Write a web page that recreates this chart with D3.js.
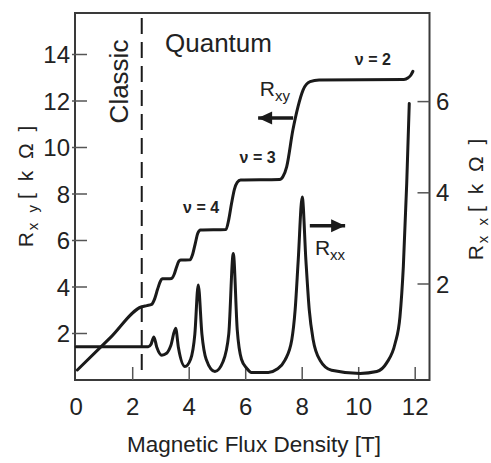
<!DOCTYPE html>
<html>
<head>
<meta charset="utf-8">
<script src="https://cdn.jsdelivr.net/npm/d3@7"></script>
<style>
  html, body { margin: 0; padding: 0; background: #fff; }
  svg { display: block; }
  text { font-family: "Liberation Sans", Arial, Helvetica, sans-serif; fill: #222; }
</style>
</head>
<body>
<svg id="chart" width="491" height="463"></svg>
<script>
// ---- data ----
const xTicks = [0, 2, 4, 6, 8, 10, 12];
const yLeftTicks = [2, 4, 6, 8, 10, 12, 14];
const yRightTicks = [2, 4, 6];

// Hall resistance R_xy [kOhm] vs B [T]
const rxyB   = [0.04, 1.2, 2.32, 2.5, 2.67, 2.78, 2.88, 2.98, 3.05, 3.38, 3.47, 3.55, 3.63, 3.7, 4.03, 4.12, 4.22, 4.3, 4.4, 5.3, 5.4, 5.5, 5.6, 5.7, 5.82, 7.2, 7.32, 7.45, 7.67, 7.85, 8.03, 8.28, 8.6, 11.6, 11.75, 11.85, 11.92];
const rxyVal = [0.43, 1.81, 3.15, 3.2, 3.25, 3.5, 3.9, 4.25, 4.35, 4.37, 4.55, 4.85, 5.1, 5.16, 5.17, 5.4, 5.9, 6.3, 6.45, 6.47, 6.9, 7.6, 8.2, 8.5, 8.6, 8.62, 8.75, 9.17, 10.75, 11.75, 12.47, 12.83, 12.9, 12.93, 13.0, 13.12, 13.28];

// Longitudinal resistance R_xx [kOhm] vs B [T]
const rxxB   = [0.0, 2.55, 2.65, 2.75, 2.85, 3.03, 3.2, 3.35, 3.52, 3.62, 3.85, 4.05, 4.2, 4.32, 4.45, 4.6, 4.91, 5.2, 5.4, 5.56, 5.7, 5.85, 6.04, 6.2, 6.8, 7.1, 7.39, 7.63, 7.75, 7.86, 8.0, 8.13, 8.25, 8.39, 8.63, 9.04, 10.05, 10.64, 10.99, 11.29, 11.46, 11.58, 11.7, 11.79];
const rxxVal = [0.625, 0.625, 0.68, 0.84, 0.62, 0.44, 0.48, 0.65, 1.03, 0.6, 0.19, 0.35, 0.9, 1.98, 0.9, 0.35, 0.08, 0.3, 0.9, 2.67, 1.0, 0.35, 0.15, 0.06, 0.06, 0.13, 0.33, 0.77, 1.43, 2.53, 3.91, 2.53, 1.43, 0.77, 0.33, 0.11, 0.04, 0.08, 0.27, 0.70, 1.28, 2.38, 4.21, 5.96];

const classicBoundary = 2.32;
const fillingLabels = [
  { text: "\u03bd = 2", b: 10.5, v: 13.55 },
  { text: "\u03bd = 3", b: 6.42, v: 9.33 },
  { text: "\u03bd = 4", b: 4.42, v: 7.18 }
];

// ---- layout ----
const svg = d3.select("#chart");
const box = { left: 75, right: 429.5, top: 13, bottom: 380 };

const x = d3.scaleLinear().domain([0, 12]).range([76.2, 415.2]);
const yL = d3.scaleLinear().domain([0, 14]).range([380, 54.5]);
const yR = d3.scaleLinear().domain([0, 6]).range([375.2, 101.6]);

const ink = "#1a1a1a";
const axisCol = "#3a3a3a";

// frame
svg.append("rect")
  .attr("x", box.left).attr("y", box.top)
  .attr("width", box.right - box.left).attr("height", box.bottom - box.top)
  .attr("fill", "none").attr("stroke", axisCol).attr("stroke-width", 2);

// bottom axis (inward ticks)
const gx = svg.append("g");
gx.selectAll("line").data(xTicks.filter(d => d > 0)).join("line")
  .attr("x1", d => x(d)).attr("x2", d => x(d))
  .attr("y1", box.bottom).attr("y2", box.bottom - 13)
  .attr("stroke", "#555").attr("stroke-width", 1.5);
gx.selectAll("text").data(xTicks).join("text")
  .attr("x", d => x(d)).attr("y", 414.5)
  .attr("text-anchor", "middle").attr("font-size", 24)
  .text(d => d);

// left axis
const gl = svg.append("g");
gl.selectAll("line").data(yLeftTicks).join("line")
  .attr("x1", box.left - 3).attr("x2", box.left + 12)
  .attr("y1", d => yL(d)).attr("y2", d => yL(d))
  .attr("stroke", "#555").attr("stroke-width", 1.5);
gl.selectAll("text").data(yLeftTicks).join("text")
  .attr("x", 70).attr("y", d => yL(d) + 8.5)
  .attr("text-anchor", "end").attr("font-size", 24)
  .text(d => d);

// right axis
const gr = svg.append("g");
gr.selectAll("line").data(yRightTicks).join("line")
  .attr("x1", box.right - 12).attr("x2", box.right)
  .attr("y1", d => yR(d)).attr("y2", d => yR(d))
  .attr("stroke", "#555").attr("stroke-width", 1.5);
gr.selectAll("text").data(yRightTicks).join("text")
  .attr("x", 436).attr("y", d => yR(d) + 8.5)
  .attr("text-anchor", "start").attr("font-size", 24)
  .text(d => d);

// axis titles
svg.append("text")
  .attr("x", 254).attr("y", 452)
  .attr("text-anchor", "middle").attr("font-size", 22.5).attr("fill", "#333")
  .text("Magnetic Flux Density [T]");

function yTitle(cx, cy, sub) {
  const t = svg.append("text")
    .attr("transform", `translate(${cx},${cy}) rotate(-90)`)
    .attr("text-anchor", "middle").attr("font-size", 21).attr("fill", "#333");
  t.append("tspan").text("R");
  t.append("tspan").attr("font-size", 15).attr("dy", 5).attr("dx", 2)
    .attr("letter-spacing", 3).text(sub);
  t.append("tspan").attr("dy", -5).attr("dx", 3).attr("letter-spacing", 3).text("[ k \u03a9 ]");
}
yTitle(33, 185, "x y");
yTitle(483, 198, "x x");

// classic / quantum separator
svg.append("line")
  .attr("x1", x(classicBoundary)).attr("x2", x(classicBoundary))
  .attr("y1", 18).attr("y2", 374)
  .attr("stroke", ink).attr("stroke-width", 2).attr("stroke-dasharray", "16,8");

svg.append("text")
  .attr("transform", `translate(128,81.5) rotate(-90)`)
  .attr("text-anchor", "middle").attr("font-size", 26)
  .text("Classic");
svg.append("text")
  .attr("x", 165).attr("y", 52).attr("font-size", 26)
  .text("Quantum");

// curves
const lineL = d3.line().x(d => x(d[0])).y(d => yL(d[1])).curve(d3.curveMonotoneX);
const lineR = d3.line().x(d => x(d[0])).y(d => yR(d[1])).curve(d3.curveMonotoneX);

svg.append("path")
  .datum(rxyB.map((b, i) => [b, rxyVal[i]]))
  .attr("d", lineL).attr("fill", "none").attr("stroke", ink)
  .attr("stroke-width", 3).attr("stroke-linejoin", "round").attr("stroke-linecap", "round");

svg.append("path")
  .datum(rxxB.map((b, i) => [b, rxxVal[i]]))
  .attr("d", lineR).attr("fill", "none").attr("stroke", ink)
  .attr("stroke-width", 3).attr("stroke-linejoin", "round").attr("stroke-linecap", "round");

// filling factor labels
svg.selectAll("text.nu").data(fillingLabels).join("text")
  .attr("class", "nu")
  .attr("x", d => x(d.b)).attr("y", d => yL(d.v))
  .attr("text-anchor", "middle").attr("font-size", 16).attr("font-weight", "bold")
  .attr("fill", "#222")
  .text(d => d.text);

// series labels with arrows
function arrow(b1, b2, yv, yScale, dir) {
  const x1 = x(b1), x2 = x(b2), yy = yScale(yv);
  svg.append("line").attr("x1", x1).attr("x2", x2).attr("y1", yy).attr("y2", yy)
    .attr("stroke", ink).attr("stroke-width", 3.5);
  const tip = dir < 0 ? Math.min(x1, x2) : Math.max(x1, x2);
  const back = tip - dir * 14;
  svg.append("path")
    .attr("d", `M${tip},${yy} L${back},${yy - 6.5} L${back},${yy + 6.5} Z`)
    .attr("fill", ink);
}
arrow(6.44, 7.68, 11.27, yL, -1);
arrow(8.27, 9.52, 3.28, yR, 1);

function seriesLabel(b, v, yScale, sub) {
  const t = svg.append("text").attr("x", x(b)).attr("y", yScale(v))
    .attr("font-size", 21).attr("fill", "#333");
  t.append("tspan").text("R");
  t.append("tspan").attr("font-size", 15).attr("dy", 5).text(sub);
}
seriesLabel(6.5, 12.2, yL, "xy");
seriesLabel(8.45, 2.63, yR, "xx");
</script>
</body>
</html>
